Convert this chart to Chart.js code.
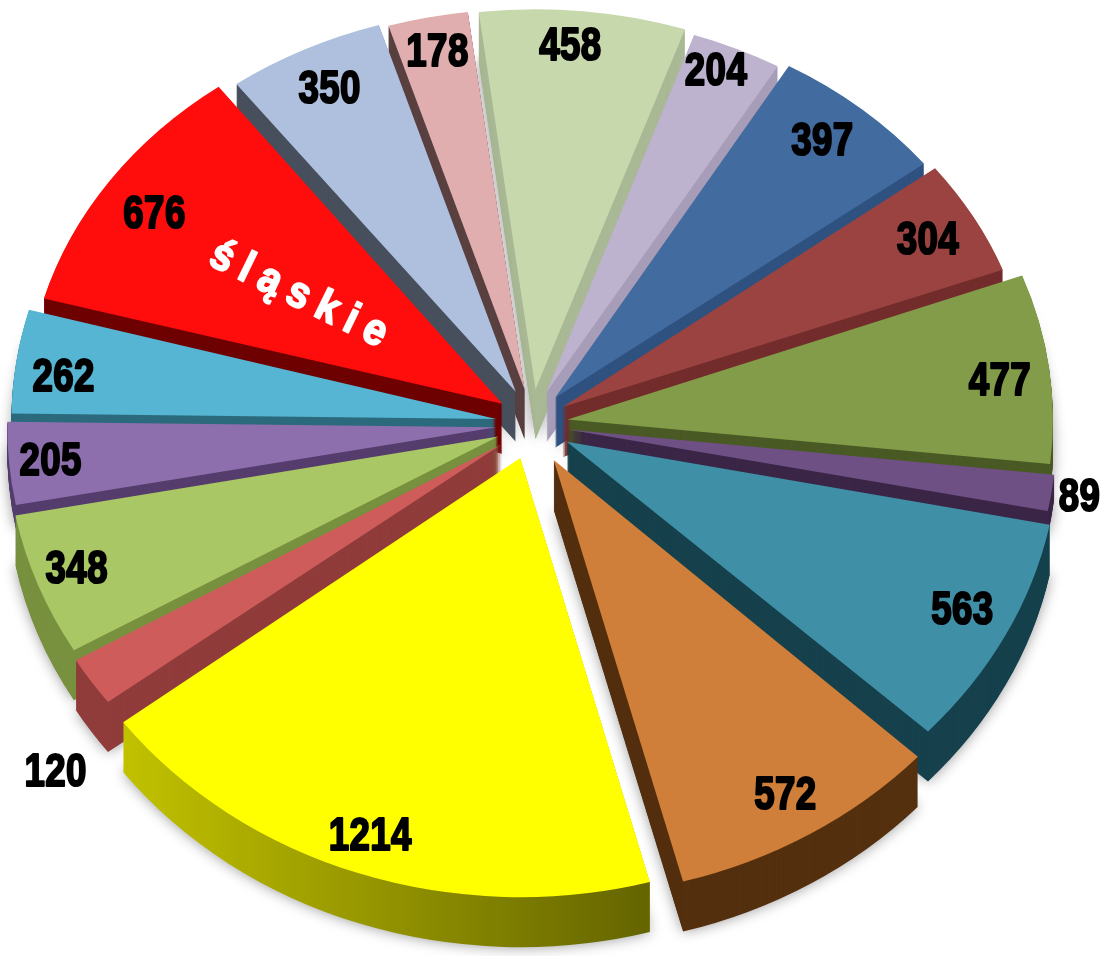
<!DOCTYPE html>
<html>
<head>
<meta charset="utf-8">
<script src="https://cdn.jsdelivr.net/npm/chart.js@4/dist/chart.umd.js"></script>
<style>
html, body { margin: 0; padding: 0; background: #fff; }
canvas { display: block; }
</style>
</head>
<body>
<canvas id="pie" width="1105" height="956"></canvas>
<script>
// clockwise from the slice at the top
const categories = ['', '', '', '', '', '', '', '', '', '', '', '', '', 'śląskie', '', ''];
const values = [458, 204, 397, 304, 477, 89, 563, 572, 1214, 120, 348, 205, 262, 676, 350, 178];

const topColors = ['#c8d8ad', '#bdb3cf', '#426b9f', '#9b4340', '#829c4a', '#6f5084', '#3f8fa6', '#cf7f3a',
    '#ffff00', '#cd5c5a', '#a9c765', '#8d6fae', '#55b5d2', '#ff0d0d', '#afc0de', '#e0aeae'];
const wallColors = ['#a9b995', '#a79db8', '#2f5280', '#732d2c', '#4a5a25', '#3b2647', '#15404c', '#54300f',
    '#8f8f00', '#903c3b', '#78913f', '#553d6d', '#2c6a7d', '#6e0000', '#474f5d', '#5a4040'];
const explode = [35, 35, 35, 35, 36, 36, 39, 42, 36, 36, 36, 36, 36, 36, 36, 35];
const wallDepth = [50, 50, 50, 50, 30, 24, 50, 50, 50, 50, 50, 24, 30, 50, 50, 50];
const radiusTrim = [0, 0.015, 0.012, 0.015, 0, 0, 0, 0, 0, 0, 0, 0, 0, 0, 0, 0];

// label place around the pie: share of the radius, and turn in degrees off the slice middle
const labelRadial = [0.93, 0.945, 0.915, 0.93, 0.965, 1.135, 0.99, 1.04, 1.053, 1.29, 0.996, 0.99, 0.967, 0.93, 0.92, 0.932];
const labelTurn = [-1, -0.9, -0.7, -0.2, 0.6, 0, 0, 1.2, -0.6, -7.2, 0, 0, -1, -0.7, 0, 0];

const pieRadius = 488;

function drawArcAs(ctx, arc, index, color, drop)
{
    const mid = (arc.startAngle + arc.endAngle) / 2;
    const sin = Math.sin(mid);
    const copy = Object.create(arc);
    copy.options = Object.assign({}, arc.options, { backgroundColor: color, borderWidth: 0 });
    // far slices look smaller, near ones bigger
    copy.outerRadius = arc.outerRadius * (1 + (sin < 0 ? 0.045 : 0.02) * sin - radiusTrim[index]);
    ctx.save();
    ctx.translate(arc.x + Math.cos(mid) * explode[index], arc.y + sin * explode[index] + drop);
    ctx.scale(1, 0.85 + 0.035 * sin);
    ctx.translate(-arc.x, -arc.y);
    Chart.ArcElement.prototype.draw.call(copy, ctx);
    ctx.restore();
}

function drawHeavyText(ctx, text, x, y, angle, size, squeeze, color, spacing, weight)
{
    ctx.save();
    ctx.translate(x, y);
    ctx.rotate(angle);
    ctx.scale(squeeze, 1);
    ctx.font = 'bold ' + size + 'px "Liberation Sans"';
    ctx.letterSpacing = spacing;
    ctx.textAlign = 'center';
    ctx.textBaseline = 'middle';
    ctx.fillStyle = color;
    ctx.strokeStyle = color;
    ctx.lineWidth = weight;
    ctx.lineJoin = 'round';
    ctx.strokeText(text, 0, 0);
    ctx.fillText(text, 0, 0);
    ctx.restore();
}

const extrudePlugin = {
    id: 'extrude',
    beforeDatasetDraw(chart, args)
    {
        const ctx = chart.ctx;
        const arcs = args.meta.data;
        const order = arcs.map((a, i) => i).sort((a, b) =>
            Math.sin((arcs[a].startAngle + arcs[a].endAngle) / 2) - Math.sin((arcs[b].startAngle + arcs[b].endAngle) / 2));

        const yellowWall = ctx.createLinearGradient(120, 0, 650, 0);
        yellowWall.addColorStop(0, '#c4c400');
        yellowWall.addColorStop(1, '#666600');

        order.forEach(i => {
            const wall = values[i] === 1214 ? yellowWall : wallColors[i];
            ctx.save();
            ctx.shadowColor = 'rgba(0,0,0,0.4)';
            ctx.shadowBlur = 14;
            drawArcAs(ctx, arcs[i], i, wall, wallDepth[i]);
            ctx.restore();
            for (let d = wallDepth[i] - 1; d > 0; d--) {
                drawArcAs(ctx, arcs[i], i, wall, d);
            }
            drawArcAs(ctx, arcs[i], i, topColors[i], 0);
        });
        return false;
    },
    afterDatasetsDraw(chart)
    {
        const ctx = chart.ctx;
        chart.getDatasetMeta(0).data.forEach((arc, i) => {
            const mid = (arc.startAngle + arc.endAngle) / 2 + labelTurn[i] * Math.PI / 180;
            const x = arc.x + Math.cos(mid) * pieRadius * labelRadial[i];
            const y = arc.y + Math.sin(mid) * pieRadius * labelRadial[i] * 0.84 + 3;
            drawHeavyText(ctx, String(values[i]), x, y, 0, 47, 0.78, '#000', '0.5px', 2.2);

            if (categories[i]) {
                const r = pieRadius * 0.565;
                const nameAngle = mid + 0.002;
                drawHeavyText(ctx, categories[i], arc.x + Math.cos(nameAngle) * r, arc.y + Math.sin(nameAngle) * r * 0.84 + 2,
                    26 * Math.PI / 180, 44, 0.9, '#fff', '11px', 2);
            }
        });
    }
};

new Chart(document.getElementById('pie').getContext('2d'), {
    type: 'pie',
    data: {
        labels: categories,
        datasets: [{
            data: values,
            backgroundColor: topColors,
            borderWidth: 0
        }]
    },
    options: {
        responsive: false,
        animation: false,
        rotation: -7,
        radius: pieRadius,
        // puts the pie middle at 532,424
        layout: { padding: { right: 41, bottom: 108 } },
        plugins: {
            legend: { display: false },
            tooltip: { enabled: false }
        }
    },
    plugins: [extrudePlugin]
});
</script>
</body>
</html>
